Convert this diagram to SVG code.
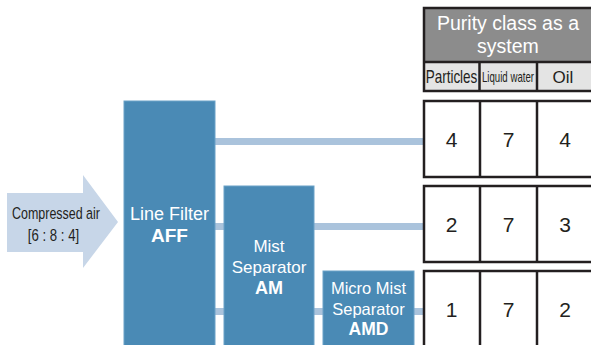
<svg xmlns="http://www.w3.org/2000/svg" width="591" height="345" viewBox="0 0 591 345">
<style>
.box{fill:#4a8ab5;stroke:#6aa2c8;stroke-width:1}
.bar{fill:#aac3dc}
.wt{fill:#ffffff;font-family:"Liberation Sans",Arial,sans-serif;text-anchor:middle}
.b{font-weight:bold}
.cell{fill:#ffffff;stroke:#231f20;stroke-width:2.5}
.ln{stroke:#231f20;stroke-width:2.5}
.num{fill:#231f20;font-family:"Liberation Sans",Arial,sans-serif;font-size:21px;text-anchor:middle}
.dk{fill:#231f20;font-family:"Liberation Sans",Arial,sans-serif;text-anchor:middle}
</style>
<rect width="591" height="345" fill="#ffffff"/>
<g id="connectors">
<rect class="bar" x="214" y="138" width="210" height="7"/>
<rect class="bar" x="214" y="223" width="210" height="7"/>
<rect class="bar" x="214" y="308" width="210" height="7"/>
</g>
<g id="input">
<polygon points="7,193 83,193 83,175 118,222 83,268 83,252 7,252" fill="#c7d6e8"/>
<text class="dk" transform="translate(56,219) scale(0.756,1)" font-size="16.5">Compressed air</text>
<text class="dk" transform="translate(53.5,241) scale(0.8,1)" font-size="16.5">[6 : 8 : 4]</text>
</g>
<g id="aff">
<rect class="box" x="124" y="101" width="91" height="250"/>
<text class="wt" x="169.5" y="220" font-size="18">Line Filter</text>
<text class="wt b" x="169.5" y="242" font-size="19">AFF</text>
</g>
<g id="am">
<rect class="box" x="224" y="186" width="90" height="165"/>
<text class="wt" x="269" y="252" font-size="17">Mist</text>
<text class="wt" x="269" y="273" font-size="17">Separator</text>
<text class="wt b" x="269" y="294" font-size="18">AM</text>
</g>
<g id="amd">
<rect class="box" x="323" y="271" width="91" height="80"/>
<text class="wt" x="368.5" y="294" font-size="16.5">Micro Mist</text>
<text class="wt" x="368.5" y="315" font-size="16.5">Separator</text>
<text class="wt b" x="368.5" y="335" font-size="17.5">AMD</text>
</g>
<g id="header">
<rect x="424" y="8" width="180" height="54" fill="#8c8c8c"/>
<rect x="424" y="62" width="180" height="29" fill="#e4e4e4"/>
<rect x="424" y="8" width="180" height="83" fill="none" stroke="#231f20" stroke-width="2.5"/>
<line class="ln" x1="424" y1="62" x2="604" y2="62"/>
<line class="ln" x1="479.5" y1="62" x2="479.5" y2="91"/>
<line class="ln" x1="537" y1="62" x2="537" y2="91"/>
<text class="wt" x="508" y="30" font-size="19.5">Purity class as a</text>
<text class="wt" x="508" y="53" font-size="19.5">system</text>
<text class="dk" transform="translate(451.5,83) scale(0.77,1)" font-size="17.5">Particles</text>
<text class="dk" transform="translate(508,82) scale(0.69,1)" font-size="14">Liquid water</text>
<text class="dk" x="563" y="83" font-size="17">Oil</text>
</g>
<g id="row1">
<rect class="cell" x="424" y="101" width="180" height="76"/>
<line class="ln" x1="480" y1="101" x2="480" y2="177"/>
<line class="ln" x1="537" y1="101" x2="537" y2="177"/>
<text class="num" x="451.5" y="147">4</text>
<text class="num" x="508.5" y="147">7</text>
<text class="num" x="565" y="147">4</text>
</g>
<g id="row2">
<rect class="cell" x="424" y="186" width="180" height="76"/>
<line class="ln" x1="480" y1="186" x2="480" y2="262"/>
<line class="ln" x1="537" y1="186" x2="537" y2="262"/>
<text class="num" x="451.5" y="232">2</text>
<text class="num" x="508.5" y="232">7</text>
<text class="num" x="565" y="232">3</text>
</g>
<g id="row3">
<rect class="cell" x="424" y="271" width="180" height="90"/>
<line class="ln" x1="480" y1="271" x2="480" y2="361"/>
<line class="ln" x1="537" y1="271" x2="537" y2="361"/>
<text class="num" x="451.5" y="317">1</text>
<text class="num" x="508.5" y="317">7</text>
<text class="num" x="565" y="317">2</text>
</g>
</svg>
